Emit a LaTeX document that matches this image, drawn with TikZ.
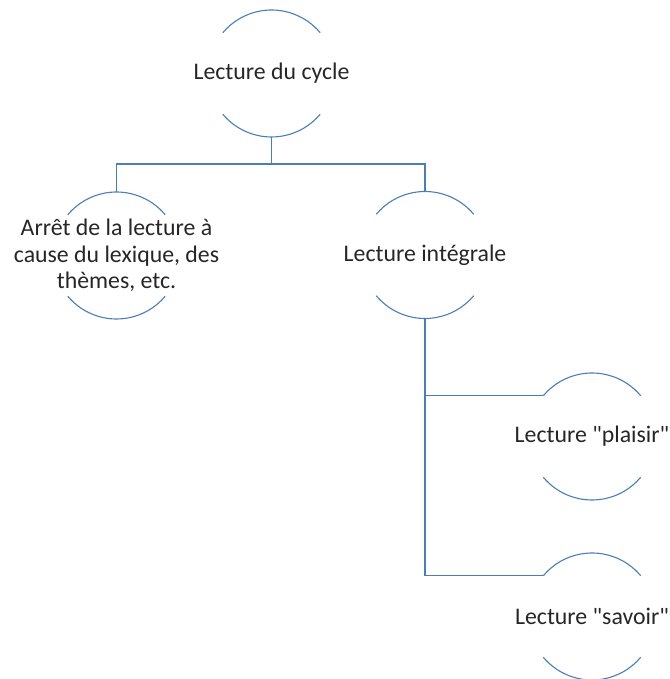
\documentclass[tikz,border=0pt]{standalone}
\usepackage{fontspec}
\setmainfont{Carlito}
\newfontfamily\lblfont{Carlito}
\definecolor{linkblue}{RGB}{74,126,187}
\definecolor{txt}{RGB}{38,38,38}
\begin{document}
\begin{tikzpicture}[x=1pt,y=1pt,
  ring/.style={circle,minimum size=127pt,inner sep=0pt,outer sep=0pt},
  lbl/.style={text=txt,align=center,font=\lblfont\fontsize{23.8}{26.5}\selectfont,inner sep=0pt},
  conn/.style={draw=linkblue,line width=1.1pt},
  arcline/.style={draw=linkblue,line width=1.1pt}]
\useasboundingbox (0,0) rectangle (669,679);
% circles (invisible nodes) and their labels
\node[ring] (top) at (271.5,605.5) {};
\node[ring] (left) at (116.5,423.5) {};
\node[ring] (right) at (425,424) {};
\node[ring] (plaisir) at (592,242.5) {};
\node[ring] (savoir) at (592,62.5) {};
\node[lbl] (toptxt) at (top) {Lecture du cycle};
\node[lbl] (lefttxt) at (left) {Arrêt de la lecture à\\cause du lexique, des\\thèmes, etc.};
\node[lbl] (righttxt) at (right) {Lecture intégrale};
\node[lbl] (plaisirtxt) at (plaisir) {Lecture "plaisir"};
\node[lbl] (savoirtxt) at (savoir) {Lecture "savoir"};
% arcs
\foreach \n in {top,left,right,plaisir,savoir}{
  \draw[arcline] (\n.40) arc[start angle=40,end angle=140,radius=63.5pt];
  \draw[arcline] (\n.220) arc[start angle=220,end angle=320,radius=63.5pt];
}
% connectors
\coordinate (bus) at (0,515);
\draw[conn] (top.south) -- (top.south |- bus);
\draw[conn] (left.north) -- (left.north |- bus) -- (right.north |- bus) -- (right.north);
\draw[conn] (right.south) |- (savoir.140);
\draw[conn] (right.south |- plaisir.140) -- (plaisir.140);
\end{tikzpicture}
\end{document}
